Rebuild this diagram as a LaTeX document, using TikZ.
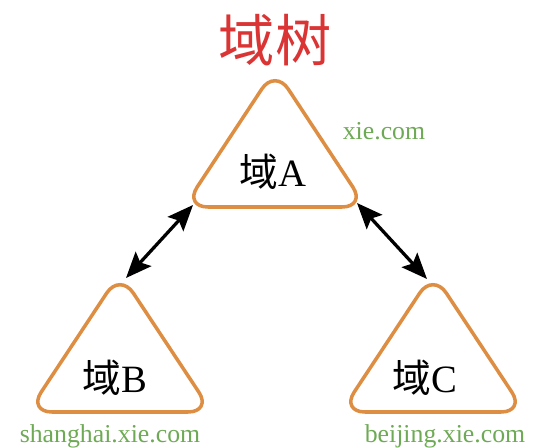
\documentclass[tikz,border=0pt]{standalone}
\usepackage{fontspec}
\setmainfont{Liberation Serif}
\newfontfamily\cjk{Noto Sans CJK SC}
\usetikzlibrary{arrows.meta}
\definecolor{domainorange}{RGB}{221,142,66}
\definecolor{namegreen}{RGB}{110,170,85}
\definecolor{titlered}{RGB}{218,52,52}
\begin{document}
\begin{tikzpicture}[
    x=0.03cm, y=-0.03cm,
    domaintri/.style={draw=domainorange, line width=3pt, rounded corners=0.72cm, line join=round},
    domaintext/.style={font=\fontsize{33}{36}\selectfont},
    dnsname/.style={text=namegreen, font=\fontsize{22}{25}\selectfont},
    trust/.style={{Stealth[length=22pt,width=18pt,inset=4pt]}-{Stealth[length=22pt,width=18pt,inset=4pt]}, line width=2.8pt}
]
\useasboundingbox (0,0) rectangle (550,448);

% Titolo
\node[text=titlered, font=\cjk\fontsize{48}{52}\selectfont] (title) at (275,40) {域树};

% Dominio radice
\draw[domaintri] (275,69) -- (366,207) -- (184,207) -- cycle;
\node[domaintext] (domainA) at (273,172) {{\cjk 域}A};
\node[dnsname] (nameA) at (384,131) {xie.com};

% Domini figli
\draw[domaintri] (120,273) -- (212,412) -- (28,412) -- cycle;
\node[domaintext] (domainB) at (115,378) {{\cjk 域}B};
\node[dnsname] (nameB) at (110,436) {shanghai.xie.com};

\draw[domaintri] (433,273) -- (525,412) -- (341,412) -- cycle;
\node[domaintext] (domainC) at (425,378) {{\cjk 域}C};
\node[dnsname] (nameC) at (445,436) {beijing.xie.com};

% Relazioni di fiducia
\coordinate (aLeft) at (193,205);
\coordinate (aRight) at (357,203);
\coordinate (bTop) at (126,278);
\coordinate (cTop) at (427,279);
\draw[trust] (aLeft) -- (bTop);
\draw[trust] (aRight) -- (cTop);
\end{tikzpicture}
\end{document}
